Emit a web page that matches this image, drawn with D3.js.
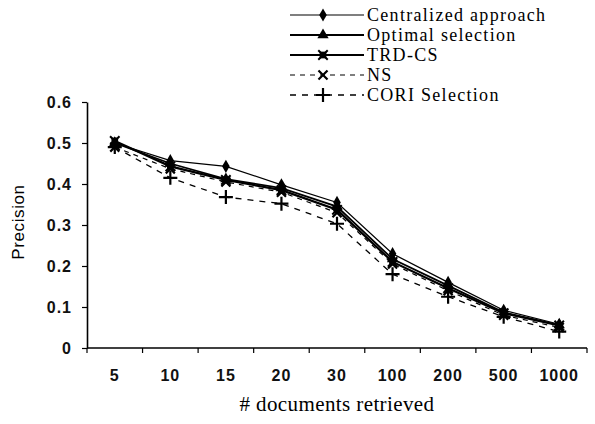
<!DOCTYPE html>
<html>
<head>
<meta charset="utf-8">
<script src="https://cdn.jsdelivr.net/npm/d3@7"></script>
<style>
  body { margin: 0; background: #fff; }
  svg { display: block; }
</style>
</head>
<body>
<script>
// categories on the x axis
var docs = ["5", "10", "15", "20", "30", "100", "200", "500", "1000"];
var yTicks = [0, 0.1, 0.2, 0.3, 0.4, 0.5, 0.6];

// series values (precision)
var centralized = [0.50, 0.457, 0.443, 0.398, 0.355, 0.23, 0.16, 0.092, 0.058];
var optimal     = [0.50, 0.45, 0.412, 0.39, 0.345, 0.217, 0.152, 0.087, 0.056];
var trdcs       = [0.505, 0.443, 0.41, 0.385, 0.337, 0.21, 0.146, 0.085, 0.055];
var ns          = [0.49, 0.437, 0.405, 0.38, 0.33, 0.205, 0.14, 0.08, 0.05];
var cori        = [0.49, 0.415, 0.368, 0.352, 0.303, 0.18, 0.125, 0.076, 0.04];

var seriesNames = ["Centralized approach", "Optimal selection", "TRD-CS", "NS", "CORI Selection"];

var series = [
  {name: seriesNames[0], values: centralized, symbol: "diamond", width: 1.2, dash: null},
  {name: seriesNames[1], values: optimal, symbol: "triangle", width: 1.8, dash: null},
  {name: seriesNames[2], values: trdcs, symbol: "square", width: 2.2, dash: null},
  {name: seriesNames[3], values: ns, symbol: "x", width: 1.2, dash: "5,5"},
  {name: seriesNames[4], values: cori, symbol: "plus", width: 1.3, dash: "6,6"}
];

var margin = {top: 102, right: 8, bottom: 76, left: 87},
    width = 595 - margin.left - margin.right,
    height = 424 - margin.top - margin.bottom;

var sans = "'Liberation Sans', Arial, sans-serif",
    serif = "'Liberation Serif', 'Times New Roman', serif";

var svg = d3.select("body").append("svg")
    .attr("width", 595)
    .attr("height", 424);

var g = svg.append("g")
    .attr("transform", "translate(" + margin.left + "," + margin.top + ")");

var x = d3.scaleBand().domain(docs).range([0, width]);
var y = d3.scaleLinear().domain([0, 0.6]).range([height, 0]);

// y axis
var yAxis = g.append("g")
    .call(d3.axisLeft(y).tickValues(yTicks).tickSize(5).tickSizeOuter(0)
      .tickFormat(function(d) { return d === 0 ? "0" : d3.format(".1f")(d); }));
yAxis.select(".domain").attr("stroke-width", 1.6);
yAxis.selectAll(".tick line").attr("stroke-width", 1.2);
yAxis.selectAll("text")
    .attr("x", -15)
    .style("font-family", sans)
    .style("font-size", "16px")
    .style("font-weight", "bold")
    .style("letter-spacing", "1px")
    .style("fill", "#111");

// x axis, ticks at band edges
var edges = docs.map(function(d) { return x(d); }).concat([width]);
var xg = g.append("g").attr("transform", "translate(0," + height + ")");
xg.append("line").attr("x1", 0).attr("x2", width)
    .attr("stroke", "#000").attr("stroke-width", 1.6);
xg.selectAll(".edge").data(edges).enter().append("line")
    .attr("x1", function(d) { return d; }).attr("x2", function(d) { return d; })
    .attr("y1", 0).attr("y2", 5)
    .attr("stroke", "#000").attr("stroke-width", 1.2);
xg.selectAll(".lab").data(docs).enter().append("text")
    .attr("x", function(d) { return x(d) + x.bandwidth() / 2; })
    .attr("y", 33)
    .attr("text-anchor", "middle")
    .style("font-family", sans)
    .style("font-size", "16px")
    .style("font-weight", "bold")
    .style("letter-spacing", "1px")
    .style("fill", "#111")
    .text(function(d) { return d; });

// axis titles
svg.append("text")
    .attr("transform", "rotate(-90)")
    .attr("x", -222)
    .attr("y", 24)
    .attr("text-anchor", "middle")
    .style("font-family", sans)
    .style("font-size", "17px")
    .style("letter-spacing", "0.6px")
    .text("Precision");

svg.append("text")
    .attr("x", 337)
    .attr("y", 411)
    .attr("text-anchor", "middle")
    .style("font-family", serif)
    .style("font-size", "21px")
    .style("letter-spacing", "0.4px")
    .text("# documents retrieved");

function marker(sel, sym) {
  if (sym === "diamond") {
    sel.append("path").attr("d", d3.symbol().type(d3.symbolDiamond).size(50)).attr("fill", "#000");
  } else if (sym === "triangle") {
    sel.append("path").attr("d", d3.symbol().type(d3.symbolTriangle).size(55)).attr("fill", "#000");
  } else if (sym === "square") {
    sel.append("path").attr("d", d3.symbol().type(d3.symbolSquare).size(45)).attr("fill", "#000");
    sel.append("path").attr("d", d3.symbol().type(d3.symbolTimes).size(60))
        .attr("fill", "none").attr("stroke", "#000").attr("stroke-width", 2);
  } else if (sym === "x") {
    sel.append("path").attr("d", d3.symbol().type(d3.symbolTimes).size(55))
        .attr("fill", "none").attr("stroke", "#000").attr("stroke-width", 2.2);
  } else if (sym === "plus") {
    sel.append("path").attr("d", "M-7,0H7M0,-7V7").attr("stroke", "#000").attr("stroke-width", 2.2);
  }
}

var line = d3.line()
    .x(function(d, i) { return x(docs[i]) + x.bandwidth() / 2; })
    .y(function(d) { return y(d); });

series.forEach(function(s) {
  g.append("path")
      .datum(s.values)
      .attr("fill", "none")
      .attr("stroke", "#000")
      .attr("stroke-width", s.width)
      .attr("stroke-dasharray", s.dash)
      .attr("d", line);
  s.values.forEach(function(v, i) {
    var m = g.append("g")
        .attr("transform", "translate(" + (x(docs[i]) + x.bandwidth() / 2) + "," + y(v) + ")");
    marker(m, s.symbol);
  });
});

// legend
var legY = [15, 35, 55, 75, 95];
series.forEach(function(s, i) {
  var lg = svg.append("g").attr("transform", "translate(290," + legY[i] + ")");
  lg.append("line").attr("x1", 0).attr("x2", 74).attr("y1", 0).attr("y2", 0)
      .attr("stroke", "#000").attr("stroke-width", s.width)
      .attr("stroke-dasharray", s.dash);
  var m = lg.append("g").attr("transform", "translate(33,0)");
  marker(m, s.symbol);
  lg.append("text")
      .attr("x", 77)
      .attr("y", 6)
      .style("font-family", serif)
      .style("font-size", "18px")
      .style("letter-spacing", "1.3px")
      .text(s.name);
});
</script>
</body>
</html>
